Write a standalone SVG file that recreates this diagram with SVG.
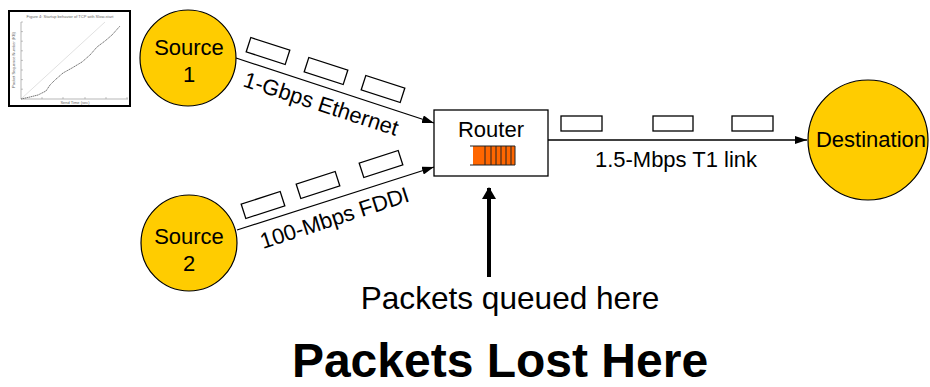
<svg xmlns="http://www.w3.org/2000/svg" width="930" height="387" viewBox="0 0 930 387">
<defs>
<style>
.node{fill:#FFCC00;stroke:#000;stroke-width:1.2}
.lbl{font-family:"Liberation Sans",Arial,sans-serif;font-size:22px;fill:#000}
.pkt{fill:#fff;stroke:#000;stroke-width:1.3}
.link{stroke:#000;stroke-width:1.3;fill:none}
.tiny{font-family:"Liberation Sans",Arial,sans-serif;font-size:4px;fill:#666}
</style>
<marker id="ah" viewBox="0 0 12 8" refX="12" refY="4" markerWidth="12" markerHeight="8" markerUnits="userSpaceOnUse" orient="auto">
<path d="M0,0 L12,4 L0,8 Z" fill="#000"/>
</marker>
<marker id="ahb" viewBox="0 0 12 14" refX="11" refY="7" markerWidth="12" markerHeight="14" markerUnits="userSpaceOnUse" orient="auto">
<path d="M0,0 L12,7 L0,14 Z" fill="#000"/>
</marker>
</defs>
<rect width="930" height="387" fill="#fff"/>

<g id="chart">
<rect x="9" y="11" width="121" height="95" fill="#fff" stroke="#000" stroke-width="2"/>
<text class="tiny" x="70" y="18" text-anchor="middle">Figure 4: Startup behavior of TCP with Slow-start</text>
<path d="M21,22 V99 H128" fill="none" stroke="#888" stroke-width="0.6"/>
<path d="M21,22 h2 M21,31.6 h2 M21,41.2 h2 M21,50.8 h2 M21,60.4 h2 M21,70 h2 M21,79.6 h2 M21,89.2 h2 M42,99 v-2 M63,99 v-2 M85,99 v-2 M106,99 v-2 M127,99 v-2" stroke="#888" stroke-width="0.5"/>
<line x1="21" y1="99" x2="105" y2="22" stroke="#ccc" stroke-width="0.6"/>
<polyline points="21,99 30,97 38,95 42,93 46,91 50,85 55,80 63,73 72,68 82,62 90,55 97,47 105,41 112,35 120,26" fill="none" stroke="#555" stroke-width="0.8" stroke-dasharray="1.5,0.5"/>
<text class="tiny" x="75" y="104" text-anchor="middle" font-size="3">Send Time (sec)</text>
<text class="tiny" x="15" y="60" text-anchor="middle" font-size="3" transform="rotate(-90 15 60)">Packet Sequence Number (KB)</text>
</g>

<g id="connectors">
<line class="link" x1="236" y1="58" x2="434" y2="123" marker-end="url(#ah)"/>
<line class="link" x1="237" y1="230" x2="434" y2="167" marker-end="url(#ah)"/>
<line class="link" x1="548" y1="140" x2="807" y2="140" marker-end="url(#ah)"/>
<line x1="489" y1="277" x2="489" y2="188" stroke="#000" stroke-width="4" marker-end="url(#ahb)"/>
</g>

<g id="packets">
<rect class="pkt" x="-20.5" y="-7.5" width="41" height="15" transform="translate(268,51) rotate(18)"/>
<rect class="pkt" x="-20.5" y="-7.5" width="41" height="15" transform="translate(326,71) rotate(18)"/>
<rect class="pkt" x="-20.5" y="-7.5" width="41" height="15" transform="translate(383,89) rotate(18)"/>
<rect class="pkt" x="-20.5" y="-7.5" width="41" height="15" transform="translate(263,205) rotate(-18)"/>
<rect class="pkt" x="-20.5" y="-7.5" width="41" height="15" transform="translate(318,185) rotate(-18)"/>
<rect class="pkt" x="-20.5" y="-7.5" width="41" height="15" transform="translate(381,164) rotate(-18)"/>
<rect class="pkt" x="561" y="116" width="41" height="15"/>
<rect class="pkt" x="653" y="116" width="40" height="15"/>
<rect class="pkt" x="732" y="116" width="41" height="15"/>
</g>

<g id="labels">
<text class="lbl" x="242" y="86" transform="rotate(18 242 86)">1-Gbps Ethernet</text>
<text class="lbl" x="263" y="249" transform="rotate(-18 263 249)">100-Mbps FDDI</text>
<text class="lbl" x="676" y="167" text-anchor="middle">1.5-Mbps T1 link</text>
<text x="510" y="309" text-anchor="middle" font-family="Liberation Sans, Arial, sans-serif" font-size="31.6">Packets queued here</text>
<text x="500" y="377" text-anchor="middle" font-family="Liberation Sans, Arial, sans-serif" font-size="48" font-weight="bold">Packets Lost Here</text>
</g>

<g id="source1">
<circle class="node" cx="188" cy="58" r="48"/>
<text class="lbl" x="189" y="55" text-anchor="middle">Source</text>
<text class="lbl" x="189" y="82" text-anchor="middle">1</text>
</g>

<g id="source2">
<circle class="node" cx="189" cy="243" r="48"/>
<text class="lbl" x="189" y="244" text-anchor="middle">Source</text>
<text class="lbl" x="189" y="271" text-anchor="middle">2</text>
</g>

<g id="destination">
<circle class="node" cx="868" cy="140" r="60"/>
<text class="lbl" x="871" y="147" text-anchor="middle">Destination</text>
</g>

<g id="router">
<rect x="434" y="110" width="114" height="66" fill="#fff" stroke="#000" stroke-width="1.3"/>
<text class="lbl" x="491" y="137" text-anchor="middle">Router</text>
<rect x="473" y="146" width="42" height="19" fill="#FF6600"/>
<path d="M470,146 H515 V165 H470 M485,146 V165 M491,146 V165 M496,146 V165 M501,146 V165 M506,146 V165 M511,146 V165" fill="none" stroke="#222" stroke-width="1"/>
</g>
</svg>
